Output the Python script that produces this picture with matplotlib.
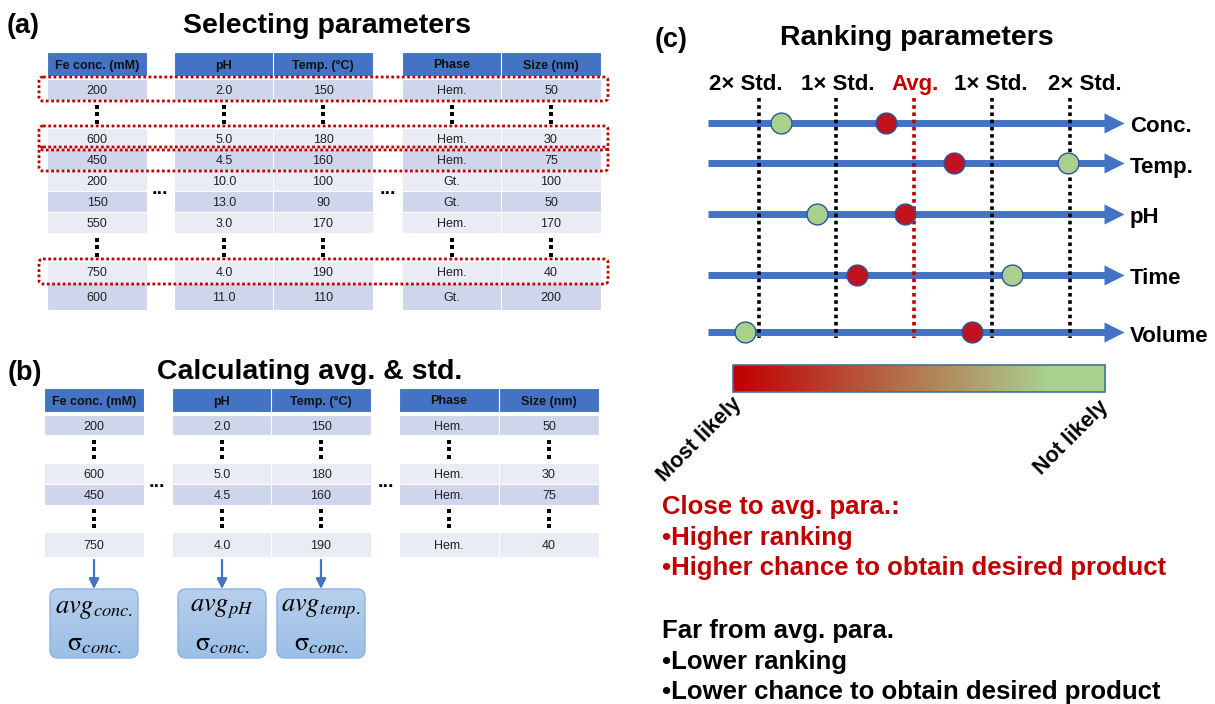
import numpy as np
import matplotlib

matplotlib.use("Agg")
import matplotlib.pyplot as plt
from matplotlib.patches import Rectangle, FancyBboxPatch
from matplotlib.colors import LinearSegmentedColormap

plt.rcParams["font.family"] = ["Liberation Sans", "DejaVu Sans"]
plt.rcParams["mathtext.fontset"] = "stix"

# ---- table contents (None = skipped rows, drawn as a vertical ellipsis)
HEADERS = ["Fe conc. (mM)", "pH", "Temp. (°C)", "Phase", "Size (nm)"]

A_CONC = ["200", None, "600", "450", "200", "150", "550", None, "750", "600"]
A_PH = ["2.0", None, "5.0", "4.5", "10.0", "13.0", "3.0", None, "4.0", "11.0"]
A_TEMP = ["150", None, "180", "160", "100", "90", "170", None, "190", "110"]
A_PHASE = ["Hem.", None, "Hem.", "Hem.", "Gt.", "Gt.", "Hem.", None, "Hem.", "Gt."]
A_SIZE = ["50", None, "30", "75", "100", "50", "170", None, "40", "200"]
A_SELECTED = [0, 2, 3, 8]

B_CONC = ["200", None, "600", "450", None, "750"]
B_PH = ["2.0", None, "5.0", "4.5", None, "4.0"]
B_TEMP = ["150", None, "180", "160", None, "190"]
B_PHASE = ["Hem.", None, "Hem.", "Hem.", None, "Hem."]
B_SIZE = ["50", None, "30", "75", None, "40"]

STAT_COLS = [0, 1, 2]
STAT_AVG = [r"$avg_{conc.}$", r"$avg_{pH}$", r"$avg_{temp.}$"]
STAT_STD = [r"$\mathrm{\sigma}_{conc.}$"] * 3

# ---- ranking panel: positions in units of std from the average
PARAMS = ["Conc.", "Temp.", "pH", "Time", "Volume"]
RED_SIGMA = [-0.36, 0.51, -0.12, -0.73, 0.75]
GREEN_SIGMA = [-1.71, 1.98, -1.25, 1.26, -2.17]
STD_POS = [-2, -1, 0, 1, 2]
STD_LABELS = ["2× Std.", "1× Std.", "Avg.", "1× Std.", "2× Std."]

CLOSE_LINES = ["Close to avg. para.:", "•Higher ranking",
               "•Higher chance to obtain desired product"]
FAR_LINES = ["Far from avg. para.", "•Lower ranking",
             "•Lower chance to obtain desired product"]

BLUE = "#4472C4"
DARK_ROW = "#CFD5EA"
LIGHT_ROW = "#E9EBF5"
RED = "#C00000"

W, H = 1215, 704
fig = plt.figure(figsize=(W / 100, H / 100), dpi=100)
ax = fig.add_axes([0, 0, 1, 1])
ax.set_xlim(0, W)
ax.set_ylim(H, 0)
ax.axis("off")

CW = 100


def vdots(x, y):
    # three small square dots standing in for skipped rows
    ax.plot([x, x, x], [y - 7.5, y, y + 7.5], ls="none", marker="s", ms=2.6,
            color="black", mew=0)


def draw_table(cols, lefts, head_top, row_top, heights, shades):
    for left, name in zip(lefts, HEADERS):
        ax.add_patch(Rectangle((left, head_top), CW, 24, fc=BLUE, ec="white", lw=0.8))
        ax.text(left + CW / 2, head_top + 16.5, name, ha="center", va="baseline",
                fontsize=9, fontweight="bold", color="#111111")
    bounds = []
    y = row_top
    for i, h in enumerate(heights):
        bounds.append((y, h))
        for left, col in zip(lefts, cols):
            v = col[i]
            cx = left + CW / 2
            if v is None:
                vdots(cx, y + h / 2)
            else:
                fc = DARK_ROW if shades[i] == "d" else LIGHT_ROW
                ax.add_patch(Rectangle((left, y), CW, h, fc=fc, ec="white", lw=0.8))
                ax.text(cx, y + h / 2 + 4.5, v, ha="center", va="baseline",
                        fontsize=9, color="#222222")
        y += h
    return bounds


# ---- (a) Selecting parameters
ax.text(7, 33, "(a)", fontsize=19.5, fontweight="bold", va="baseline")
ax.text(327, 33, "Selecting parameters", fontsize=20.5, fontweight="bold",
        ha="center", va="baseline")
lefts_a = [47, 174, 273, 402, 501]
rows_a = draw_table([A_CONC, A_PH, A_TEMP, A_PHASE, A_SIZE], lefts_a, 52, 79,
                    [21, 28, 21, 21, 21, 21, 21, 28, 22, 27],
                    ["d", "", "l", "d", "l", "d", "l", "", "l", "d"])
for x in [160, 388]:
    ax.text(x, 194, "...", ha="center", va="baseline", fontsize=14, fontweight="bold")
for i in A_SELECTED:
    top, h = rows_a[i]
    ax.add_patch(FancyBboxPatch((39, top - 2), 569, h + 3,
                                boxstyle="round,pad=0,rounding_size=4",
                                fill=False, ec=RED, lw=2.0, ls=(0, (1, 0.9)), zorder=5))

# ---- (b) Calculating avg. & std.
ax.text(8, 380, "(b)", fontsize=19.5, fontweight="bold", va="baseline")
ax.text(310, 379, "Calculating avg. & std.", fontsize=20.5, fontweight="bold",
        ha="center", va="baseline")
lefts_b = [44, 172, 271, 399, 499]
draw_table([B_CONC, B_PH, B_TEMP, B_PHASE, B_SIZE], lefts_b, 388, 415,
           [20, 28, 21, 21, 27, 25], ["d", "", "l", "d", "", "l"])
for x in [157, 386]:
    ax.text(x, 487, "...", ha="center", va="baseline", fontsize=14, fontweight="bold")

box_cmap = LinearSegmentedColormap.from_list("box", ["#B7CFEC", "#9CBFE6"])
for k, c in enumerate(STAT_COLS):
    cx = lefts_b[c] + CW / 2
    ax.annotate("", xy=(cx, 589), xytext=(cx, 560),
                arrowprops=dict(arrowstyle="-|>,head_length=0.6,head_width=0.3",
                                color=BLUE, lw=1.6, shrinkA=0, shrinkB=0))
    box = FancyBboxPatch((cx - 44, 589), 88, 69, boxstyle="round,pad=0,rounding_size=8",
                         fc="none", ec="#8DB3E2", lw=1.0, zorder=3)
    ax.add_patch(box)
    grad = np.linspace(0, 1, 64).reshape(-1, 1)
    im = ax.imshow(grad, cmap=box_cmap, extent=(cx - 44, cx + 44, 658, 589),
                   aspect="auto", zorder=2)
    im.set_clip_path(box)
    ax.text(cx, 609, STAT_AVG[k], ha="center", va="center", fontsize=19, zorder=4)
    ax.text(cx, 644, STAT_STD[k], ha="center", va="center", fontsize=19, zorder=4)

# ---- (c) Ranking parameters
ax.text(655, 47, "(c)", fontsize=19.5, fontweight="bold", va="baseline")
ax.text(917, 45, "Ranking parameters", fontsize=20.5, fontweight="bold",
        ha="center", va="baseline")

# second axes: x measured in std units, y in pixels
SIG0, SIGPX = 914, 77.75
axc = fig.add_axes([0, 0, 1, 1])
axc.set_xlim(-SIG0 / SIGPX, (W - SIG0) / SIGPX)
axc.set_ylim(H, 0)
axc.axis("off")

ARROW_Y = [123, 163, 214, 275, 332]
LABEL_X = [746, 838, 915, 991, 1085]
for s, lab, lx in zip(STD_POS, STD_LABELS, LABEL_X):
    col = RED if s == 0 else "black"
    axc.vlines(s, 98, 338, colors=col, lw=2.6, linestyles=[(0, (1, 1))], zorder=4)
    ax.text(lx, 90, lab, ha="center", va="baseline", fontsize=16, fontweight="bold",
            color=col)

for y, name, r, g in zip(ARROW_Y, PARAMS, RED_SIGMA, GREEN_SIGMA):
    axc.plot([-2.65, 2.48], [y, y], color=BLUE, lw=5, solid_capstyle="butt", zorder=2)
    axc.plot([2.566], [y], marker=">", ms=13.7, color=BLUE, mec="none", zorder=2)
    axc.plot([r], [y], "o", ms=15, mfc="#C0121F", mec="#2F5597", mew=1, zorder=6)
    axc.plot([g], [y], "o", ms=15, mfc="#A9D18E", mec="#2F5597", mew=1, zorder=6)
    ax.text(1130, y + 9.5, name, ha="left", va="baseline", fontsize=16,
            fontweight="bold")

# likelihood colour bar
bar_cmap = LinearSegmentedColormap.from_list(
    "likely", [(0, "#C00000"), (0.85, "#A9D18E"), (1, "#A9D18E")])
ax.imshow(np.linspace(0, 1, 256).reshape(1, -1), cmap=bar_cmap,
          extent=(733, 1105, 392, 365), aspect="auto", zorder=2)
ax.add_patch(Rectangle((733, 365), 372, 27, fill=False, ec="#41719C", lw=1.2, zorder=3))
ax.set_xlim(0, W)
ax.set_ylim(H, 0)
ax.text(700, 440, "Most likely", rotation=45, ha="center", va="center",
        fontsize=15.5, fontweight="bold")
ax.text(1071, 438, "Not likely", rotation=45, ha="center", va="center",
        fontsize=15.5, fontweight="bold")

for y, line in zip([514, 544.5, 575], CLOSE_LINES):
    ax.text(662, y, line, color=RED, fontsize=18.5, fontweight="bold", va="baseline")
for y, line in zip([638, 668.5, 699], FAR_LINES):
    ax.text(662, y, line, color="black", fontsize=18.5, fontweight="bold", va="baseline")

fig.savefig("out.png", dpi=100)
